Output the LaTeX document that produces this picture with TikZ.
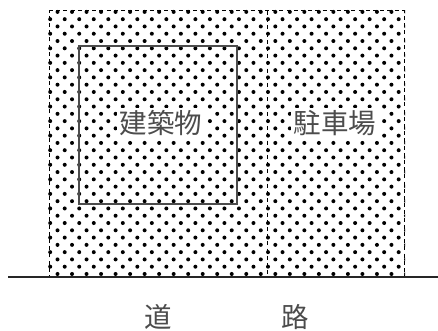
\documentclass[tikz,border=0pt]{standalone}
\usepackage{fontspec}
\newfontfamily\cjk{Noto Sans CJK JP}
\tikzset{
  frameline/.style={draw=black,line width=1pt,dash pattern=on 4pt off 3.2pt},
  bldg/.style={draw=black!70,line width=1.2pt},
  groundline/.style={draw=black!85,line width=1.1pt},
  dotmark/.style={fill=black},
  lbl/.style={font=\cjk\fontsize{27.5}{28}\selectfont,text=black!70,inner sep=0pt},
  whitelbl/.style={lbl,fill=white,inner xsep=3pt,inner ysep=2pt},
}
\begin{document}
\begin{tikzpicture}[x=1pt,y=-1pt]
\useasboundingbox (0,0) rectangle (438,331);
\fill[white] (0,0) rectangle (438,331);
\begin{scope}
\clip (48,10) rectangle (405,276);
\foreach \i in {0,...,36}{
  \pgfmathsetmacro{\yy}{11.9+7.28*\i}
  \pgfmathtruncatemacro{\odd}{mod(\i,2)}
  \foreach \j in {0,...,24}{
    \pgfmathsetmacro{\xx}{(\odd==1 ? 50.2 : 57.5)+14.52*\j}
    \fill[dotmark] (\xx,\yy) circle (2pt);
  }
}
\end{scope}
\coordinate (tl) at (49,11);
\coordinate (tr) at (404,11);
\coordinate (bl) at (49,276);
\coordinate (br) at (404,276);
\coordinate (dt) at (267,11);
\coordinate (db) at (267,276);
\coordinate (gl) at (8,277);
\coordinate (gr) at (438,277);
\draw[frameline] (tl) -- (tr) -- (br) -- (bl) -- cycle;
\draw[frameline] (dt) -- (db);
\draw[bldg] (79,46) rectangle (237,204);
\draw[groundline] (gl) -- (gr);
\node[whitelbl] (b) at (161,123) {建築物};
\node[whitelbl] (p) at (335,123) {駐車場};
\node[lbl] (d1) at (158,317) {道};
\node[lbl] (d2) at (295,317) {路};
\end{tikzpicture}
\end{document}
